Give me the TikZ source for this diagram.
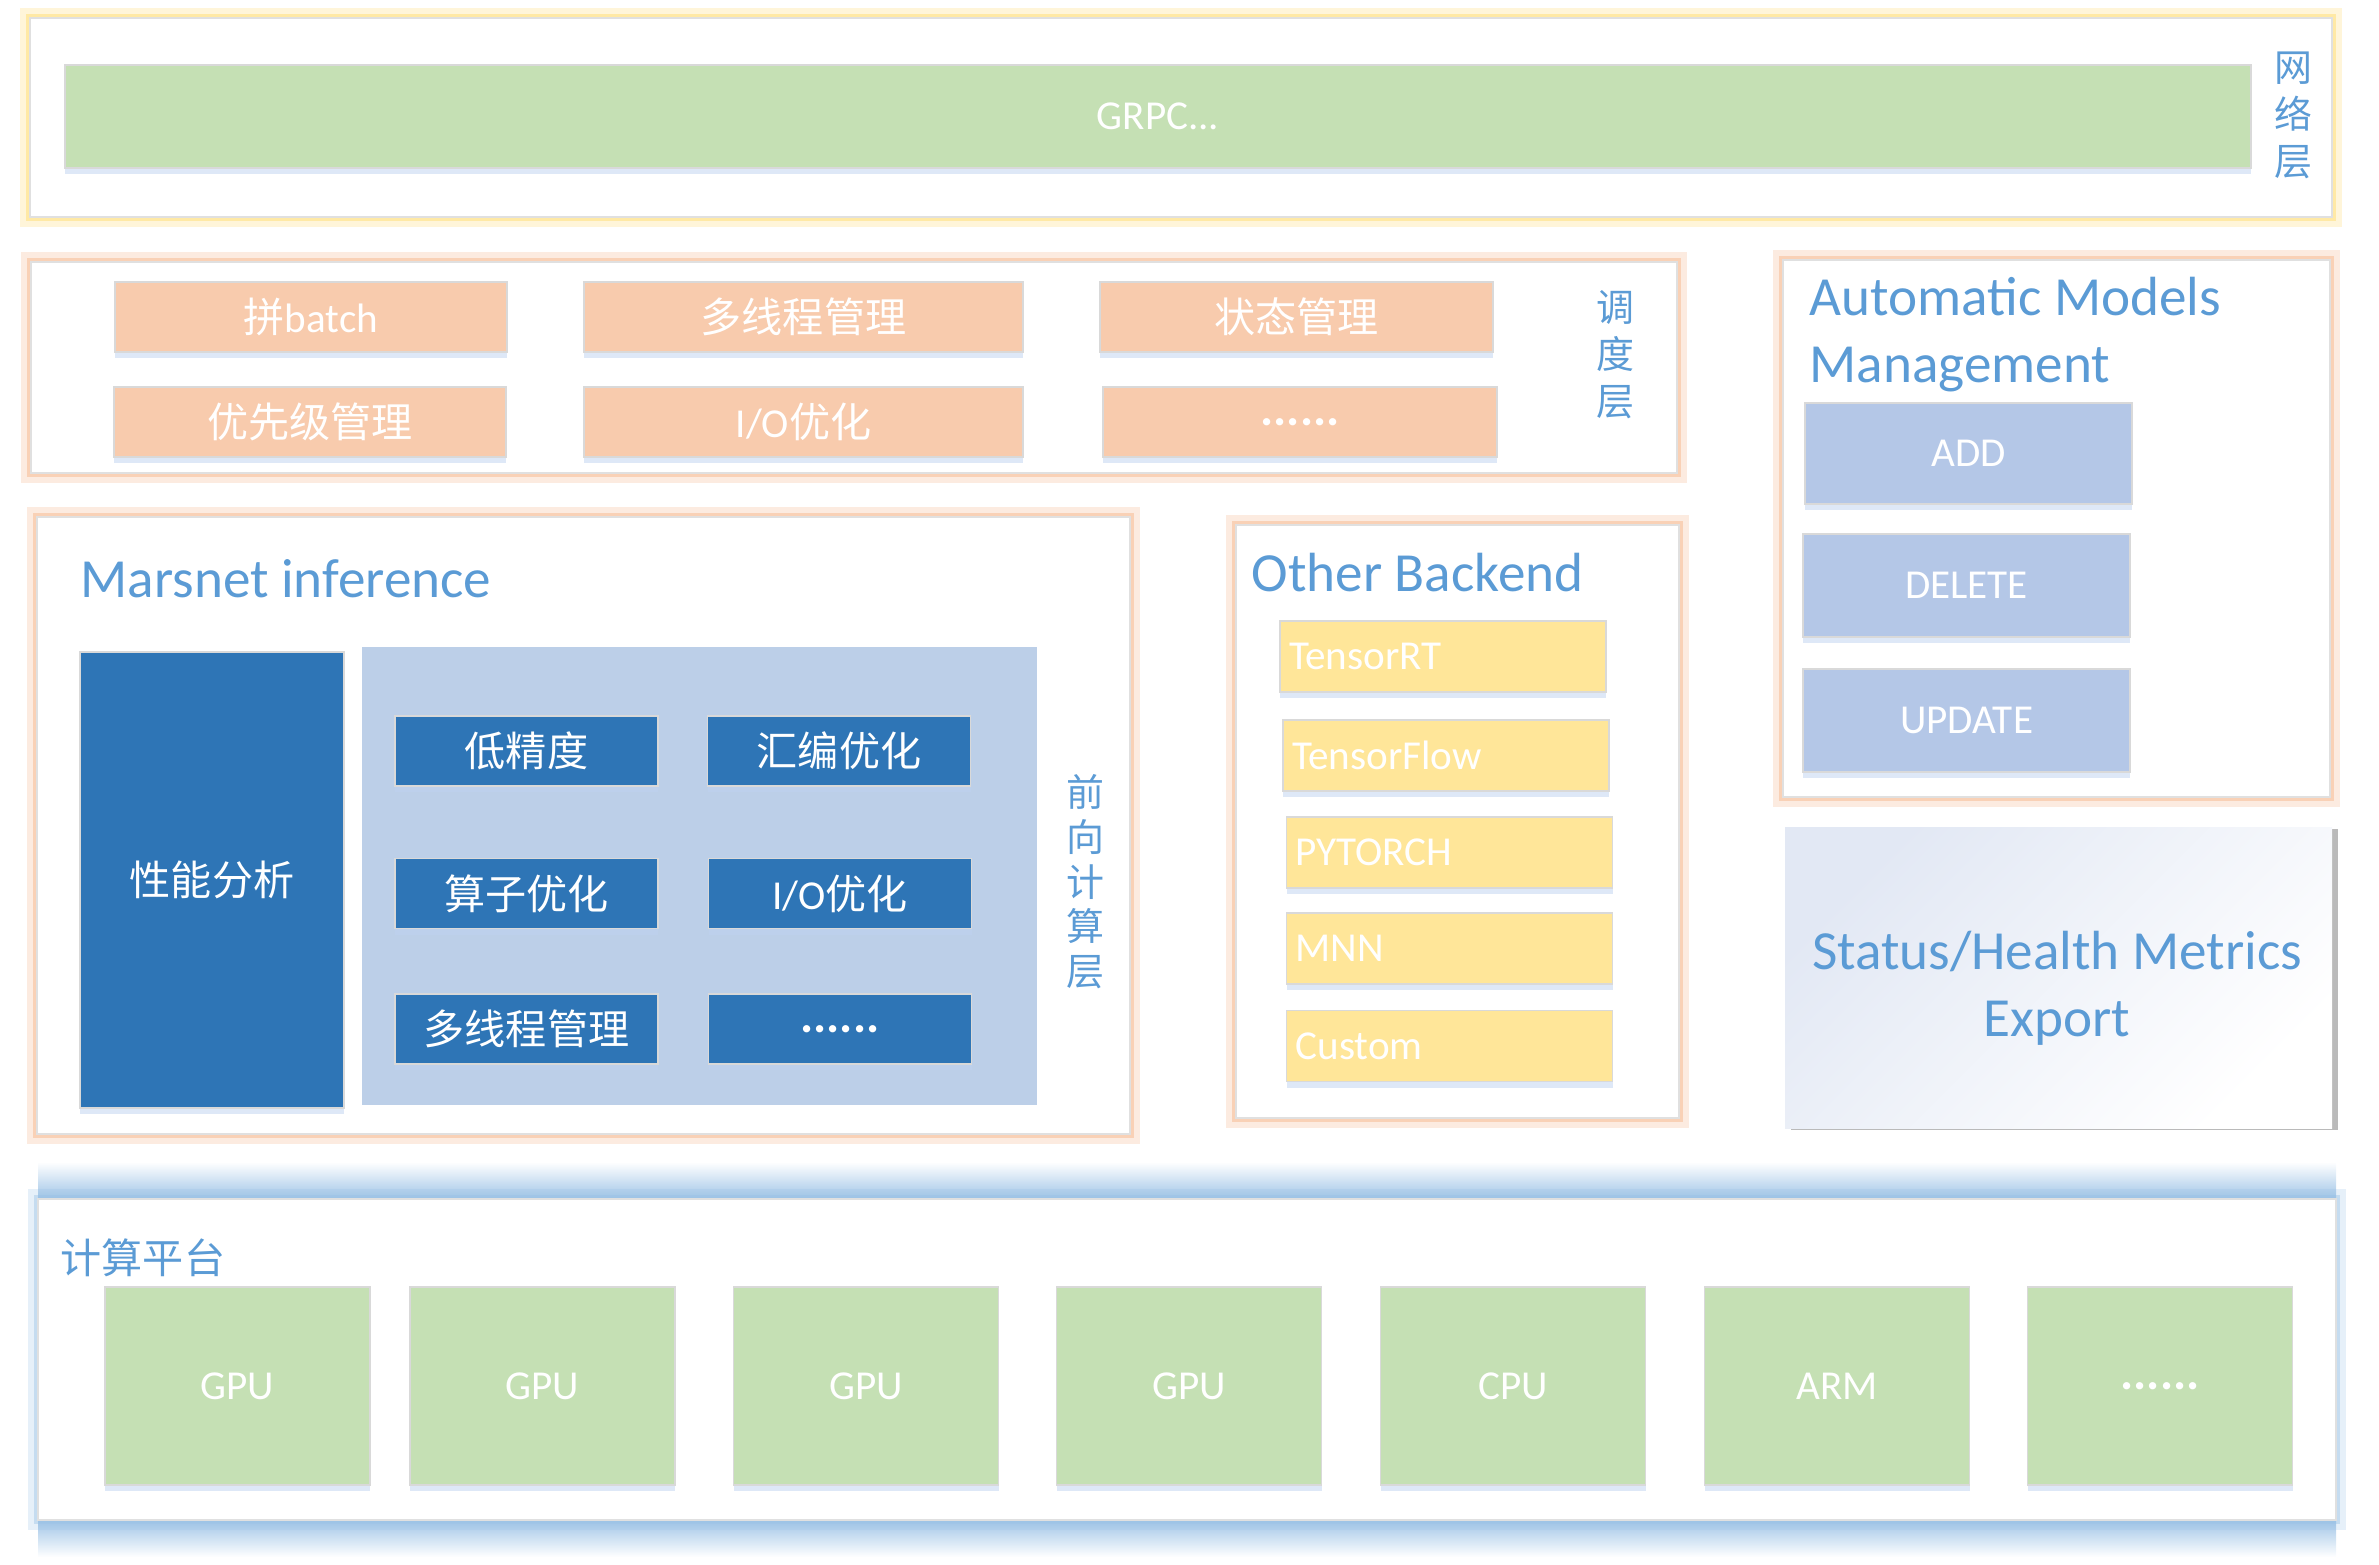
\documentclass[tikz,border=0pt]{standalone}
\usepackage{fontspec}
\setmainfont{Carlito}
\newfontfamily\cjk{Noto Sans CJK SC}
\usetikzlibrary{shadows}
\definecolor{grpcgreen}{RGB}{197,224,180}
\definecolor{schedsalmon}{RGB}{248,203,173}
\definecolor{backyellow}{RGB}{255,230,153}
\definecolor{modelblue}{RGB}{180,199,231}
\definecolor{panelblue}{RGB}{188,207,232}
\definecolor{darkblue}{RGB}{46,117,182}
\definecolor{titleblue}{RGB}{91,155,213}
\definecolor{glowyellow}{RGB}{255,217,102}
\definecolor{glowsalmon}{RGB}{244,177,131}
\definecolor{glowblue}{RGB}{157,195,230}
\definecolor{shadowblue}{RGB}{190,210,240}
\definecolor{statusgray}{RGB}{226,232,244}
\newcommand\moredots{{\fontsize{14}{16}\selectfont\textbf{......}}}
\tikzset{
   layer/.style={draw=black!12, line width=.5pt, fill=white,
      preaction={draw=#1, line width=.20cm, opacity=.25},
      preaction={draw=#1, line width=.08cm, opacity=.45}},
   box/.style={draw=black!15, line width=.4pt, fill=#1, text=white, inner sep=0pt,
      font=\fontsize{11.7}{14}\selectfont,
      drop shadow={shadow xshift=0pt, shadow yshift=-.06cm, fill=shadowblue, opacity=.5}},
   backend/.style={box=backyellow, text width=3.08cm, inner xsep=.09cm, align=left},
   side/.style={text=titleblue, align=center, inner sep=0pt, font=\cjk\fontsize{10.8}{13.4}\selectfont},
   heading/.style={text=titleblue, inner sep=0pt, font=\fontsize{15.7}{19.1}\selectfont}
}
\begin{document}
\begin{tikzpicture}
   \useasboundingbox (0,0) rectangle (23.79,-15.64);

   \node[layer=glowyellow, minimum width=23.02cm, minimum height=1.99cm] (net) at (11.81,-1.175) {};
   \node[box=grpcgreen, minimum width=21.86cm, minimum height=1.03cm] (grpc) at (11.58,-1.165) {GRPC...};
   \node[side, text depth=0pt] (netlabel) at (22.93,-1.14) {网\\络\\层};

   \node[layer=glowsalmon, minimum width=16.46cm, minimum height=2.11cm] (sched) at (8.54,-3.675) {};
   \node[box=schedsalmon, minimum width=3.92cm, minimum height=.70cm] (batch) at (3.11,-3.17) {{\cjk 拼}batch};
   \node[box=schedsalmon, minimum width=4.39cm, minimum height=.70cm] (thread) at (8.035,-3.17) {\cjk 多线程管理};
   \node[box=schedsalmon, minimum width=3.93cm, minimum height=.70cm] (state) at (12.965,-3.17) {\cjk 状态管理};
   \node[box=schedsalmon, minimum width=3.92cm, minimum height=.70cm] (prio) at (3.10,-4.22) {\cjk 优先级管理};
   \node[box=schedsalmon, minimum width=4.39cm, minimum height=.70cm] (io) at (8.035,-4.22) {I/O{\cjk 优化}};
   \node[box=schedsalmon, minimum width=3.94cm, minimum height=.70cm] (schedmore) at (13.0,-4.22) {\moredots};
   \node[side] (schedlabel) at (16.15,-3.55) {调\\度\\层};

   \node[layer=glowsalmon, minimum width=5.47cm, minimum height=5.37cm] (models) at (20.565,-5.285) {};
   \node[heading, anchor=north west, align=left] (modelstitle) at (18.09,-2.76) {Automatic Models\\Management};
   \node[box=modelblue, minimum width=3.27cm, minimum height=1.01cm] (add) at (19.685,-4.535) {ADD};
   \node[box=modelblue, minimum width=3.27cm, minimum height=1.03cm] (delete) at (19.665,-5.855) {DELETE};
   \node[box=modelblue, minimum width=3.27cm, minimum height=1.03cm] (update) at (19.665,-7.205) {UPDATE};

   \node[layer=glowsalmon, minimum width=10.93cm, minimum height=6.17cm] (marsnet) at (5.835,-8.255) {};
   \node[heading, anchor=base west] (marsnettitle) at (0.80,-5.97) {Marsnet inference};
   \node[box=darkblue, minimum width=2.64cm, minimum height=4.56cm] (perf) at (2.12,-8.80) {\cjk 性能分析};
   \node[fill=panelblue, minimum width=6.75cm, minimum height=4.58cm, inner sep=0pt] (panel) at (6.995,-8.76) {};
   \node[box=darkblue, minimum width=2.63cm, minimum height=.70cm] (lowprec) at (5.265,-7.51) {\cjk 低精度};
   \node[box=darkblue, minimum width=2.63cm, minimum height=.70cm] (asm) at (8.39,-7.51) {\cjk 汇编优化};
   \node[box=darkblue, minimum width=2.63cm, minimum height=.70cm] (op) at (5.265,-8.935) {\cjk 算子优化};
   \node[box=darkblue, minimum width=2.63cm, minimum height=.70cm] (fwdio) at (8.40,-8.935) {I/O{\cjk 优化}};
   \node[box=darkblue, minimum width=2.63cm, minimum height=.70cm] (fwdthread) at (5.265,-10.29) {\cjk 多线程管理};
   \node[box=darkblue, minimum width=2.63cm, minimum height=.70cm] (fwdmore) at (8.40,-10.29) {\moredots};
   \node[side, text depth=0pt, font=\cjk\fontsize{10.8}{12.7}\selectfont] (fwdlabel) at (10.85,-8.80) {前\\向\\计\\算\\层};

   \node[layer=glowsalmon, minimum width=4.43cm, minimum height=5.93cm] (other) at (14.575,-8.215) {};
   \node[heading, anchor=base west] (othertitle) at (12.51,-5.91) {Other Backend};
   \node[backend, minimum height=.71cm] (trt) at (14.43,-6.565) {TensorRT};
   \node[backend, minimum height=.71cm] (tf) at (14.46,-7.555) {TensorFlow};
   \node[backend, minimum height=.71cm] (torch) at (14.495,-8.525) {PYTORCH};
   \node[backend, minimum height=.71cm] (mnn) at (14.495,-9.485) {MNN};
   \node[backend, minimum height=.71cm] (custom) at (14.495,-10.46) {Custom};

   \node[top color=statusgray, bottom color=white, shading angle=45, minimum width=5.47cm, minimum height=3.01cm,
      drop shadow={shadow xshift=.06cm, shadow yshift=-.02cm, fill=black!45, opacity=.6}] (status) at (20.585,-9.775) {};
   \node[heading, align=center] (statustext) at (20.57,-9.88) {Status/Health Metrics\\Export};

   \shade[top color=white, bottom color=glowblue] (0.38,-11.62) rectangle (23.36,-12.00);
   \shade[top color=glowblue, bottom color=white] (0.38,-15.19) rectangle (23.36,-15.57);
   \node[layer=glowblue, minimum width=22.98cm, minimum height=3.21cm] (platform) at (11.87,-13.595) {};
   \node[text=titleblue, anchor=west, inner sep=0pt, font=\cjk\fontsize{11.7}{14}\selectfont] (platformlabel) at (0.60,-12.58) {计算平台};
   \node[box=grpcgreen, minimum width=2.65cm, minimum height=1.98cm] (gpua) at (2.375,-13.86) {GPU};
   \node[box=grpcgreen, minimum width=2.65cm, minimum height=1.98cm] (gpub) at (5.425,-13.86) {GPU};
   \node[box=grpcgreen, minimum width=2.65cm, minimum height=1.98cm] (gpuc) at (8.66,-13.86) {GPU};
   \node[box=grpcgreen, minimum width=2.65cm, minimum height=1.98cm] (gpud) at (11.89,-13.86) {GPU};
   \node[box=grpcgreen, minimum width=2.65cm, minimum height=1.98cm] (cpu) at (15.13,-13.86) {CPU};
   \node[box=grpcgreen, minimum width=2.65cm, minimum height=1.98cm] (arm) at (18.37,-13.86) {ARM};
   \node[box=grpcgreen, minimum width=2.65cm, minimum height=1.98cm] (platmore) at (21.60,-13.86) {\moredots};
\end{tikzpicture}
\end{document}
